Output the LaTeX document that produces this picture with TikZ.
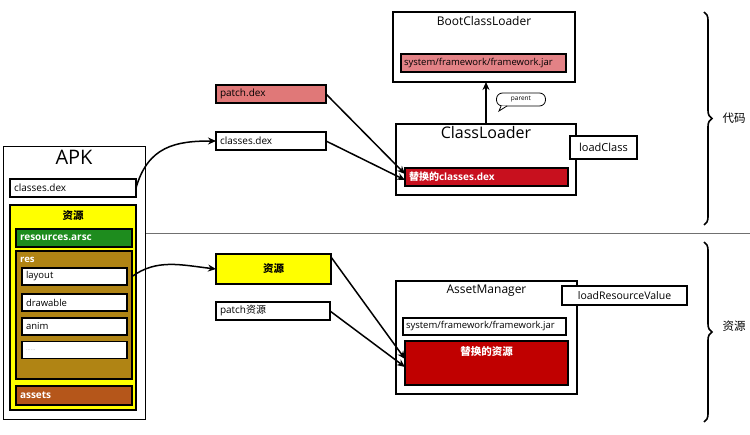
\documentclass[tikz,border=0pt]{standalone}
\usepackage{fontspec}
\setmainfont{Open Sans}
\newfontfamily\cjk{Noto Sans CJK SC}
\usetikzlibrary{arrows.meta,decorations.pathreplacing,calc}
\definecolor{yel}{HTML}{FFFF00}
\definecolor{grn}{HTML}{1E8C1E}
\definecolor{brn}{HTML}{B08414}
\definecolor{ast}{HTML}{B5561A}
\definecolor{pnk}{HTML}{E07878}
\definecolor{pnk2}{HTML}{E38286}
\definecolor{rd}{HTML}{C8101E}
\definecolor{rd2}{HTML}{C00000}
\definecolor{sep}{HTML}{707070}
\begin{document}
\begin{tikzpicture}[x=1pt,y=-1pt,
  box/.style={draw=black, line width=1.2pt, inner sep=0pt, outer sep=0pt},
  lbox/.style={box, inner xsep=4pt, align=left, font=\fontsize{10}{11}\selectfont},
  ttl/.style={anchor=north, inner sep=2pt},
  arr/.style={line width=1.5pt, -{Stealth[length=8pt,width=7pt]}},
  brc/.style={line width=1.6pt, decorate, decoration={brace, amplitude=8pt}}]
\useasboundingbox[fill=white] (0,0) rectangle (750,435);

% separator
\draw[sep, line width=1pt] (145,234) -- (750,234);

% APK
\node[box, line width=1pt, minimum width=142pt, minimum height=273pt] (apk) at (74,283.5) {};
\node[ttl, font=\fontsize{20}{22}\selectfont] (apkt) at ([yshift=-1pt]apk.north) {APK};
\node[lbox, text width=118pt, minimum height=18pt, fill=white] (apkdex) at (73,188) {classes.dex};
\node[box, fill=yel, minimum width=126pt, minimum height=205pt] (yelb) at (73,307.5) {};
\node[ttl, font=\fontsize{10.5}{12}\selectfont\cjk\bfseries] (yelt) at ([yshift=-3pt]yelb.north) {资源};
\node[lbox, fill=grn, text=white, text width=108pt, minimum height=18pt, font=\fontsize{10}{11}\selectfont\bfseries] (arsc) at (74,238) {resources.arsc};
\node[box, fill=brn, minimum width=116pt, minimum height=128pt] (res) at (74,315) {};
\node[anchor=west, inner sep=1pt, text=white, font=\fontsize{9.5}{10}\selectfont\bfseries] (rest) at ([xshift=3pt,yshift=-9pt]res.north west) {res};
\node[lbox, fill=white, text width=97pt, minimum height=17pt, font=\fontsize{9.5}{10}\selectfont] (layout) at (74.5,276.5) {layout};
\node[lbox, fill=white, text width=97pt, minimum height=17pt, font=\fontsize{9.5}{10}\selectfont] (drawable) at (74.5,302.5) {drawable};
\node[lbox, fill=white, text width=97pt, minimum height=17pt, font=\fontsize{9.5}{10}\selectfont] (anim) at (74.5,326.5) {anim};
\node[lbox, fill=white, text width=97pt, minimum height=17pt, text=black!25, font=\fontsize{6}{7}\selectfont] (dots) at (74.5,350) {......};
\node[lbox, fill=ast, text=white, text width=108pt, minimum height=19pt, font=\fontsize{10}{11}\selectfont\bfseries] (assets) at (74,395.5) {assets};

% middle code part
\node[lbox, fill=pnk, text width=102pt, minimum height=18pt] (patch) at (271,94) {patch.dex};
\node[lbox, fill=white, text width=102pt, minimum height=18pt] (cdex) at (271,141) {classes.dex};

% BootClassLoader
\node[box, fill=white, minimum width=182pt, minimum height=70pt] (boot) at (484,47) {};
\node[ttl, font=\fontsize{12}{14}\selectfont] (boott) at ([yshift=-2pt]boot.north) {BootClassLoader};
\node[lbox, fill=pnk2, text width=159pt, minimum height=18pt, inner xsep=3pt, font=\fontsize{9.5}{10}\selectfont] (bootjar) at (483.5,63) {system/framework/framework.jar};

% ClassLoader
\node[box, fill=white, minimum width=180pt, minimum height=71pt] (cl) at (486,159.5) {};
\node[ttl, font=\fontsize{16}{18}\selectfont] (clt) at ([yshift=0pt]cl.north) {ClassLoader};
\node[lbox, fill=rd, text=white, text width=155pt, minimum height=18pt, font=\fontsize{10}{11}\selectfont\bfseries] (cljar) at (486.5,177) {{\cjk 替换的}classes.dex};
\node[box, fill=white, minimum width=67pt, minimum height=23pt, font=\fontsize{11}{12}\selectfont] (lc) at (603.5,147.5) {loadClass};

% parent arrow + bubble
\draw[arr] (cl.north) -- (cl.north |- boot.south);
\node[draw, fill=white, rounded corners=6pt, line width=0.8pt, inner xsep=6pt, inner ysep=2pt, minimum width=49pt, minimum height=13pt, font=\fontsize{6.5}{7}\selectfont] (par) at (521,99.5) {parent};
\coordinate (tail) at (499,111);
\draw[line width=0.8pt, fill=white] ([xshift=5pt,yshift=0.5pt]par.south west) -- (tail) -- ([xshift=11pt,yshift=0.5pt]par.south west);

% lower resource part
\node[box, fill=yel, minimum width=115pt, minimum height=30pt, font=\fontsize{10.5}{12}\selectfont\cjk\bfseries] (res2) at (273.5,269) {资源};
\node[lbox, fill=white, text width=106pt, minimum height=18pt] (pres) at (273,311) {patch{\cjk 资源}};

% AssetManager
\node[box, fill=white, minimum width=181pt, minimum height=113pt] (am) at (486.5,337.5) {};
\node[ttl, font=\fontsize{12}{14}\selectfont] (amt) at ([yshift=-2pt]am.north) {AssetManager};
\node[lbox, fill=white, text width=157pt, minimum height=17pt, inner xsep=3pt, font=\fontsize{9.5}{10}\selectfont] (amjar) at (484.5,326.5) {system/framework/framework.jar};
\node[box, fill=rd2, minimum width=163pt, minimum height=44pt] (amred) at (486.5,363) {};
\node[ttl, text=white, font=\fontsize{10.5}{12}\selectfont\cjk\bfseries] (amredt) at ([yshift=-3pt]amred.north) {替换的资源};
\node[box, fill=white, minimum width=125pt, minimum height=19pt, font=\fontsize{10.5}{12}\selectfont] (lrv) at (624.5,295.5) {loadResourceValue};

% connectors
\draw[arr] (apkdex.east) .. controls +(12,-42) and +(-40,0) .. (cdex.west);
\draw[arr] (res.east |- layout) .. controls +(25,-18) and +(-35,-4) .. (res2.west);
\draw[arr] (patch.east) -- ([yshift=3pt]cljar.west);
\draw[arr] (cdex.east) -- ([yshift=-3pt]cljar.west);
\draw[arr] ([yshift=-3pt]res2.north east) -- ([yshift=4pt]amred.west);
\draw[arr] (pres.east) -- ([yshift=-4pt]amred.west);

% braces
\draw[brc] (704,12) -- (704,225);
\node[font=\fontsize{11.5}{13}\selectfont\cjk] (codel) at (734,118) {代码};
\draw[brc] (704,242) -- (704,422);
\node[font=\fontsize{11.5}{13}\selectfont\cjk] (resl) at (734,326) {资源};
\end{tikzpicture}
\end{document}
